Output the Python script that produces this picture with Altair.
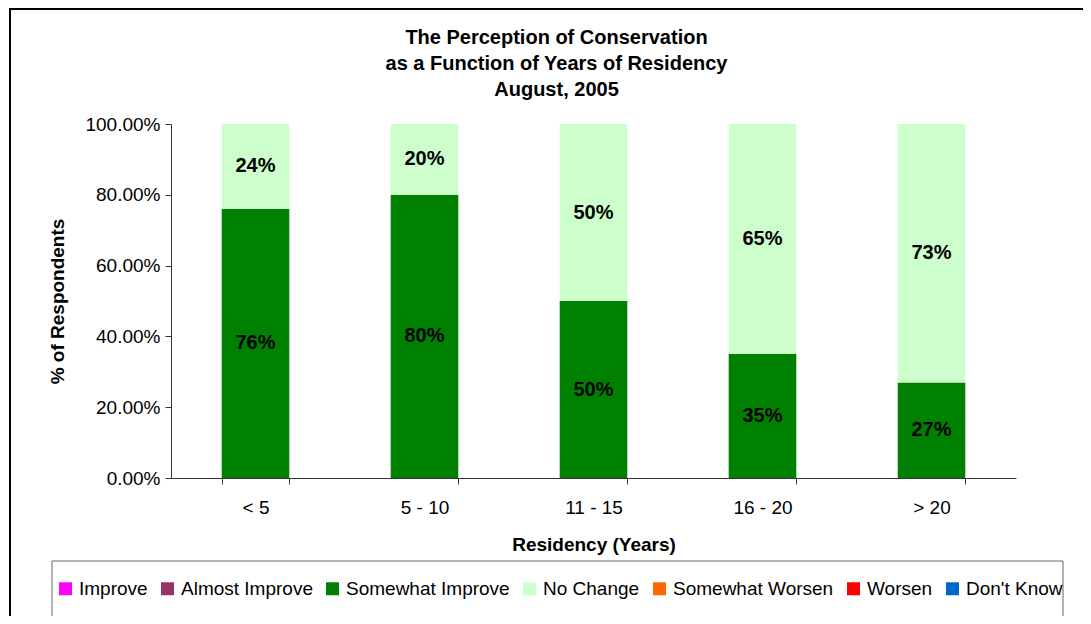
import altair as alt
import pandas as pd

categories = ["< 5", "5 - 10", "11 - 15", "16 - 20", "> 20"]
somewhat_improve = [0.76, 0.80, 0.50, 0.35, 0.27]
no_change = [0.24, 0.20, 0.50, 0.65, 0.73]
series_names = ["Improve", "Almost Improve", "Somewhat Improve", "No Change",
                "Somewhat Worsen", "Worsen", "Don't Know"]
series_colors = ["#FF00FF", "#993366", "#008000", "#CCFFCC",
                 "#FF6600", "#FF0000", "#0066CC"]
y_ticks = [0, 0.2, 0.4, 0.6, 0.8, 1.0]

rows = []
for c, a, b in zip(categories, somewhat_improve, no_change):
    rows.append({"Residency": c, "Response": "Somewhat Improve", "value": a, "order": 2})
    rows.append({"Residency": c, "Response": "No Change", "value": b, "order": 3})
df = pd.DataFrame(rows)

FONT = "Liberation Sans"
W, H = 845, 354

x_enc = alt.X("Residency:N", sort=categories,
              scale=alt.Scale(paddingInner=0.6, paddingOuter=0.3),
              axis=alt.Axis(title="Residency (Years)", labelAngle=0, tickBand="extent",
                            labelPadding=14, titlePadding=18))
y_axis = alt.Axis(title="% of Respondents", values=y_ticks, format=".2%",
                  labelPadding=5, titlePadding=17)
y_scale = alt.Scale(domain=[0, 1], nice=False)

bars = alt.Chart(df).mark_bar().encode(
    x=x_enc,
    y=alt.Y("value:Q", stack="zero", scale=y_scale, axis=y_axis),
    color=alt.Color("Response:N",
                    scale=alt.Scale(domain=series_names, range=series_colors),
                    legend=alt.Legend(title=None, orient="none", legendX=-115, legendY=455,
                                      direction="horizontal", columns=7,
                                      symbolType="square", symbolSize=169,
                                      symbolStrokeWidth=0, labelFont=FONT,
                                      labelFontSize=19, labelColor="black",
                                      labelOffset=4, columnPadding=10, padding=0,
                                      labelLimit=400)),
    order=alt.Order("order:Q"),
)

labels = alt.Chart(df).transform_window(
    cum="sum(value)", groupby=["Residency"], sort=[alt.SortField("order")],
    frame=[None, 0]
).transform_calculate(
    mid="datum.cum - datum.value / 2"
).mark_text(font=FONT, fontSize=20, fontWeight="bold", color="black").encode(
    x=x_enc,
    y=alt.Y("mid:Q", scale=y_scale, axis=y_axis),
    text=alt.Text("value:Q", format=".0%"),
)

one = alt.Data(values=[{"k": 1}])
frame_left = alt.Chart(one).mark_rule(color="black", strokeWidth=2).encode(
    x=alt.value(-161), y=alt.value(-116), y2=alt.value(520))
frame_top = alt.Chart(one).mark_rule(color="black", strokeWidth=2).encode(
    x=alt.value(-162), x2=alt.value(930), y=alt.value(-115))
legend_box = alt.Chart(one).mark_rect(fillOpacity=0, stroke="#666666", strokeWidth=1).encode(
    x=alt.value(-119), x2=alt.value(892), y=alt.value(437), y2=alt.value(493))

chart = alt.layer(bars, labels, frame_left, frame_top, legend_box).properties(
    width=W, height=H,
    title=alt.TitleParams(
        ["The Perception of Conservation", "as a Function of Years of Residency", "August, 2005"],
        font=FONT, fontSize=20, fontWeight="bold", color="black", lineHeight=26,
        anchor="middle", dx=-37, dy=115, offset=22),
    autosize=alt.AutoSizeParams(type="none"),
    padding={"left": 163, "top": 116, "right": 67, "bottom": 138},
).configure_view(stroke=None).configure_axis(
    domainColor="#333333", tickColor="#333333", tickSize=6, grid=False,
    labelFont=FONT, labelFontSize=19, labelColor="black",
    titleFont=FONT, titleFontSize=19, titleColor="black", titleFontWeight="bold",
)

chart.save("out.html", embed_options={"renderer": "svg", "actions": False})
